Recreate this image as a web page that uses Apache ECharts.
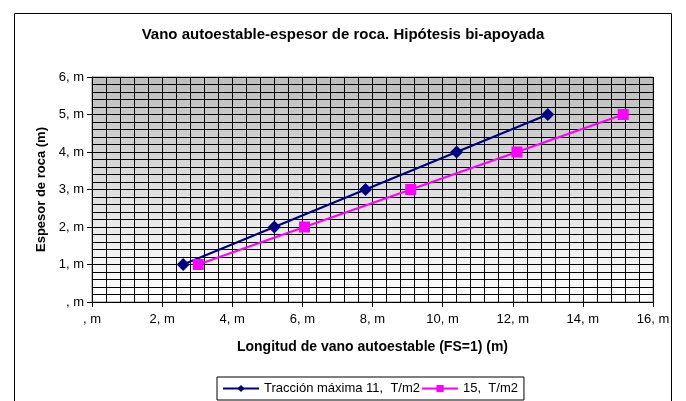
<!DOCTYPE html>
<html>
<head>
<meta charset="utf-8">
<script src="https://cdn.jsdelivr.net/npm/echarts@6/dist/echarts.min.js"></script>
<style>
html,body{margin:0;padding:0;background:#fff;}
#chart{width:686px;height:401px;}
</style>
</head>
<body>
<div id="chart"></div>
<script>
var titleText = 'Vano autoestable-espesor de roca. Hipótesis bi-apoyada';
var xAxisTitle = 'Longitud de vano autoestable (FS=1) (m)';
var yAxisTitle = 'Espesor de roca (m)';
var seriesNames = ['Tracción máxima 11,  T/m2', '15,  T/m2'];
var espesor = [1, 2, 3, 4, 5];
var vano11 = [2.6, 5.2, 7.8, 10.4, 13.0];
var vano15 = [3.03, 6.06, 9.09, 12.12, 15.15];

function pairs(xs, ys) { return xs.map(function (x, i) { return [x, ys[i]]; }); }
function tickFmt(v) { return v === 0 ? ', m' : v + ', m'; }

var chart = echarts.init(document.getElementById('chart'));
var font = 'Liberation Sans, Arial, sans-serif';
chart.setOption({
  animation: false,
  textStyle: { fontFamily: font },
  title: {
    text: titleText, left: 'center', top: 22,
    textStyle: { fontSize: 15, fontWeight: 'bold', color: '#000', fontFamily: font }
  },
  graphic: [{
    type: 'rect', left: 12, top: 11, z: -10,
    shape: { width: 657, height: 400 },
    style: { fill: 'none', stroke: '#000', lineWidth: 1 }
  }],
  legend: {
    top: 377, left: 217,
    data: seriesNames,
    borderColor: '#000', borderWidth: 1, borderRadius: 0,
    padding: [5, 6, 5, 5],
    itemWidth: 36, itemHeight: 9, itemGap: 1,
    textStyle: { fontSize: 13, color: '#000', fontFamily: font }
  },
  grid: {
    left: 92, right: 33, top: 77, bottom: 99,
    show: true, borderColor: '#808080', borderWidth: 1,
    backgroundColor: new echarts.graphic.LinearGradient(0, 0, 0, 1, [
      { offset: 0, color: '#bdbdbd' }, { offset: 1, color: '#ffffff' }
    ])
  },
  xAxis: {
    type: 'value', min: 0, max: 16, interval: 2,
    name: xAxisTitle, nameLocation: 'middle', nameGap: 38,
    nameTextStyle: { fontSize: 14, fontWeight: 'bold', color: '#000', fontFamily: font },
    axisLine: { show: true, onZero: false, lineStyle: { color: '#000', width: 1 } },
    axisTick: { show: true, length: 5, lineStyle: { color: '#000' } },
    minorTick: { show: true, splitNumber: 5, length: 0 },
    axisLabel: { formatter: tickFmt, fontSize: 13, color: '#000', margin: 11 },
    splitLine: { show: true, lineStyle: { color: '#000', width: 1 } },
    minorSplitLine: { show: true, lineStyle: { color: '#000', width: 1 } }
  },
  yAxis: {
    type: 'value', min: 0, max: 6, interval: 1,
    name: yAxisTitle, nameLocation: 'middle', nameGap: 44, nameRotate: 90,
    nameTextStyle: { fontSize: 13, fontWeight: 'bold', color: '#000', fontFamily: font },
    axisLine: { show: true, onZero: false, lineStyle: { color: '#000', width: 1 } },
    axisTick: { show: true, length: 5, lineStyle: { color: '#000' } },
    minorTick: { show: true, splitNumber: 5, length: 0 },
    axisLabel: { formatter: tickFmt, fontSize: 13, color: '#000', margin: 8 },
    splitLine: { show: true, lineStyle: { color: '#000', width: 1 } },
    minorSplitLine: { show: true, lineStyle: { color: '#000', width: 1 } }
  },
  series: [
    {
      name: seriesNames[0], type: 'line', data: pairs(vano11, espesor),
      symbol: 'diamond', symbolSize: 13,
      lineStyle: { color: '#000080', width: 2 },
      itemStyle: { color: '#000080' }
    },
    {
      name: seriesNames[1], type: 'line', data: pairs(vano15, espesor),
      symbol: 'rect', symbolSize: 11,
      lineStyle: { color: '#ff00ff', width: 2 },
      itemStyle: { color: '#ff00ff' }
    }
  ]
});
</script>
</body>
</html>
